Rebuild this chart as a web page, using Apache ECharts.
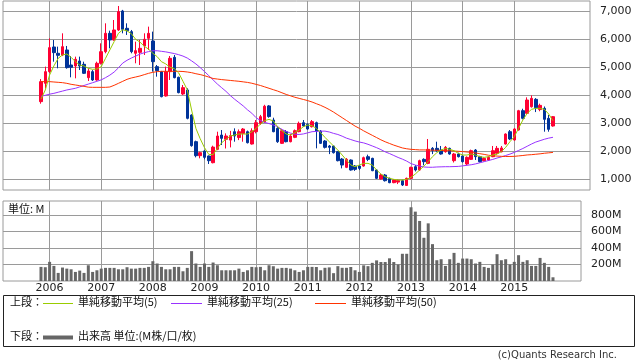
<!DOCTYPE html>
<html><head><meta charset="utf-8">
<script src="https://cdn.jsdelivr.net/npm/echarts@6/dist/echarts.min.js"></script>
<style>html,body{margin:0;padding:0;background:#fff}#c{width:638px;height:362px}</style>
</head><body><div id="c"></div>
<script>
// first candle: 2005-11, monthly candles
const startYear = 2005, startMonth = 11;
const yearLabels = ['2006','2007','2008','2009','2010','2011','2012','2013','2014','2015'];
const priceTicks = [1000,2000,3000,4000,5000,6000,7000];
const volTicks = [200,400,600,800];

const opens = [3773,4427,4844,5725,5499,5439,5618,5082,5046,5225,
5106,4630,4844,4546,5142,5558,6213,5975,6332,7010,
6392,6273,5499,5534,5761,6034,5939,5022,4844,3975,
4844,5356,4642,4046,4189,3296,2344,1844,2011,1832,
1593,2070,2581,2427,2400,2700,2490,2640,2700,2260,
2700,3000,3050,3620,3117,2820,2284,2700,2343,2498,
2700,3022,2962,2879,3022,2724,2367,2189,2189,1986,
1724,1427,1689,1474,1474,1474,1807,1748,1332,1010,
1153,1034,880,900,950,780,1034,1451,1332,1712,
1569,2105,2105,2046,1986,2105,1665,1903,1832,1546,
1712,2046,1808,1665,1689,1808,1927,1986,2260,2700,
2403,2760,3450,3355,3593,3855,3490,3534,3177,2903];
const closes = [4487,4844,5701,5523,5427,5737,4987,4999,5284,5046,
4785,4868,4546,5142,5558,6213,5975,6332,6987,6356,
6308,5558,5594,5677,6000,6213,5201,4880,3951,4844,
5320,4630,4094,4273,3177,2201,1844,1951,1784,1665,
2150,2546,2462,2546,2560,2546,2700,2795,2308,2730,
3022,3237,3610,3240,2700,2343,2736,2343,2546,2736,
2998,2903,2796,3058,2724,2284,2141,2141,1950,1665,
1510,1712,1332,1355,1390,1772,1712,1308,1034,1153,
950,880,974,960,796,1034,1427,1332,1665,1629,
2070,2022,2022,1903,2141,1903,1903,1808,1629,1784,
2022,1808,1629,1748,1784,2022,2105,2120,2617,2439,
2796,3450,3177,3831,3891,3558,3640,3141,2784,3237];
const highs = [4580,5023,6034,5975,5737,6213,5761,5403,5380,5380,
5200,4960,4900,5200,5856,6570,6308,6689,7189,7050,
6570,6333,5915,5975,6213,6451,6273,5082,4870,5022,
5403,5439,4665,4368,4249,3320,2380,1987,2040,1850,
2200,2700,2760,2640,2730,2820,2780,2830,2740,2820,
3117,3300,3660,3650,3200,2860,2800,2760,2620,2780,
3060,3117,3000,3117,3058,2760,2400,2224,2200,2000,
1760,1760,1710,1510,1500,1810,1880,1770,1360,1200,
1190,1060,1000,990,980,1060,1450,1510,1700,1750,
2439,2150,2343,2190,2190,2130,1940,1950,1860,1820,
2060,2080,1840,1780,1820,2190,2190,2190,2640,2760,
2830,3480,3520,3927,3998,3900,3700,3600,3296,3260];
const lows = [3700,4249,4800,5201,4963,5400,4950,4642,4606,4903,
4760,4510,4510,4520,5100,5500,5677,5950,6300,6213,
6154,5499,5142,5082,5439,5618,4844,4665,3927,3951,
4546,4606,4070,4011,3142,2165,1784,1749,1713,1546,
1570,2040,2224,2100,2140,2343,2400,2343,2280,2240,
2640,2950,3020,3200,2680,2300,2260,2320,2320,2470,
2680,2880,2770,2850,2105,2260,2100,1900,1920,1640,
1390,1400,1310,1300,1330,1450,1650,1290,1010,990,
920,860,860,830,760,760,1000,1280,1300,1500,
1540,1900,1980,1880,1950,1880,1600,1780,1600,1500,
1690,1690,1600,1640,1660,1790,1880,1960,2240,2400,
2380,2740,3140,3330,3560,3400,3430,2700,2700,2880];
const ma5 = [3860,4190,4725,5050,5320,5440,5475,5356,5201,5082,
5046,4963,4927,4939,5022,5320,5618,5915,6213,6340,
6300,6200,6000,5900,5750,5650,5500,5380,5200,5120,
5000,4950,4800,4500,4200,3475,2820,2450,2130,1890,
1880,2105,2308,2427,2546,2581,2617,2617,2617,2700,
2819,2974,3093,3141,3081,2879,2736,2617,2581,2665,
2760,2879,2938,2915,2819,2665,2498,2343,2189,2046,
1867,1689,1510,1450,1510,1569,1569,1510,1332,1189,
1093,1034,998,974,974,998,1070,1189,1332,1474,
1629,1808,1950,2046,2105,2070,2022,1927,1867,1867,
1903,1867,1808,1784,1808,1867,1903,1986,2141,2343,
2522,2819,3117,3355,3498,3534,3534,3498,3331,3093];
const ma25 = [3960,4000,4040,4070,4110,4150,4190,4220,4250,4300,
4350,4400,4450,4500,4550,4630,4720,4830,4980,5150,
5250,5330,5400,5470,5520,5560,5590,5590,5570,5550,
5520,5490,5450,5400,5330,5230,5120,4990,4850,4700,
4550,4400,4270,4140,3990,3860,3740,3620,3480,3360,
3200,3100,3030,2990,2940,2880,2780,2710,2650,2610,
2600,2620,2660,2700,2710,2720,2720,2690,2640,2600,
2540,2470,2420,2370,2330,2300,2250,2190,2130,2060,
1980,1920,1850,1780,1720,1650,1560,1510,1470,1440,
1430,1430,1440,1445,1450,1450,1455,1460,1480,1500,
1520,1550,1590,1630,1670,1710,1760,1800,1850,1900,
1960,2030,2100,2180,2260,2330,2380,2430,2470,2500];
const ma50 = [4487,4487,4487,4475,4463,4451,4427,4392,4368,4344,
4320,4290,4284,4284,4284,4284,4296,4356,4427,4499,
4570,4618,4653,4689,4737,4784,4820,4844,4856,4856,
4856,4856,4856,4850,4832,4808,4770,4740,4700,4650,
4600,4580,4560,4545,4530,4515,4500,4480,4460,4430,
4390,4350,4300,4250,4200,4150,4090,4030,3980,3930,
3890,3850,3810,3760,3700,3640,3570,3490,3400,3300,
3200,3100,3000,2900,2820,2730,2650,2570,2490,2410,
2340,2280,2220,2170,2120,2090,2070,2060,2050,2050,
2045,2040,2035,2030,2025,2020,2010,2000,1990,1975,
1960,1940,1915,1890,1860,1840,1830,1820,1815,1815,
1820,1835,1850,1870,1880,1895,1910,1930,1945,1960];
const volumes = [171,167,232,183,98,163,150,142,110,126,
98,191,110,130,150,159,159,159,142,142,
167,150,150,159,159,171,240,212,171,142,
142,171,171,118,159,362,212,171,212,171,
224,191,130,130,130,130,150,110,130,171,
167,171,130,191,179,150,159,159,150,130,
110,130,171,171,170,130,160,165,95,180,
160,160,170,130,110,190,180,220,250,230,
230,275,230,200,330,330,894,841,728,524,
699,447,252,264,183,264,341,220,272,272,
264,212,232,171,159,200,325,252,264,200,
232,313,232,252,183,183,280,220,171,45];

// month labels for every candle, and their position in months since 2006-01
const months = opens.map((_, k) => {
  const m = startMonth - 1 + k;
  return (startYear + Math.floor(m / 12)) + '-' + String(m % 12 + 1).padStart(2, '0');
});
const base = Number(yearLabels[0]);
const pos = months.map(s => (Number(s.slice(0, 4)) - base) * 12 + Number(s.slice(5)) - 1);
const yearTicks = yearLabels.map(y => (Number(y) - base) * 12);

const candleData = pos.map((x, k) => [x, opens[k], closes[k], lows[k], highs[k]]);
const lineData = arr => pos.map((x, k) => [x, arr[k]]);
const volData = pos.map((x, k) => [x, volumes[k]]);

const GRID = '#9a9a9a';
const FONT = "'DejaVu Sans', sans-serif";
const JP = "'Noto Sans CJK JP', sans-serif";
const pxPerMonth = 4.3025;
const xMin = -10.83;

const chart = echarts.init(document.getElementById('c'), null, {renderer: 'canvas'});
chart.setOption({
  animation: false,
  backgroundColor: '#fff',
  grid: [
    {left: 3, top: 1, width: 587, height: 189, show: true, borderColor: GRID, borderWidth: 1, backgroundColor: '#fff'},
    {left: 3, top: 201, width: 578, height: 80, show: true, borderColor: GRID, borderWidth: 1, backgroundColor: '#fff'}
  ],
  xAxis: [
    {type: 'value', gridIndex: 0, min: xMin, max: xMin + 587 / pxPerMonth,
     axisLine: {show: false}, axisTick: {show: false, customValues: yearTicks},
     axisLabel: {show: false, customValues: yearTicks},
     splitLine: {show: true, lineStyle: {color: GRID, width: 1}}},
    {type: 'value', gridIndex: 1, min: xMin, max: xMin + 578 / pxPerMonth,
     axisLine: {show: false}, axisTick: {show: false, customValues: yearTicks},
     axisLabel: {show: true, customValues: yearTicks, margin: 2, fontSize: 11, fontFamily: FONT, color: '#222',
       formatter: v => yearLabels[Math.round(v / 12)]},
     splitLine: {show: true, lineStyle: {color: GRID, width: 1}}}
  ],
  yAxis: [
    {type: 'value', gridIndex: 0, position: 'right', min: 618, max: 7367,
     axisLine: {show: false},
     axisTick: {show: true, inside: false, length: 4, customValues: priceTicks, lineStyle: {color: GRID}},
     axisLabel: {customValues: priceTicks, margin: 10, fontSize: 11, fontFamily: FONT, color: '#222',
       formatter: v => v.toLocaleString('en-US')},
     splitLine: {show: true, lineStyle: {color: GRID, width: 1}}},
    {type: 'value', gridIndex: 1, position: 'right', min: 0, max: 970,
     axisLine: {show: false},
     axisTick: {show: true, inside: false, length: 4, customValues: volTicks, lineStyle: {color: GRID}},
     axisLabel: {customValues: volTicks, margin: 10, fontSize: 11, fontFamily: FONT, color: '#222',
       formatter: v => v + 'M'},
     splitLine: {show: true, lineStyle: {color: GRID, width: 1}}}
  ],
  series: [
    {type: 'candlestick', name: '株価', xAxisIndex: 0, yAxisIndex: 0, data: candleData, barWidth: 3,
     clip: true, z: 2,
     itemStyle: {color: '#ff0033', color0: '#003399', borderColor: '#ff0033', borderColor0: '#003399', borderWidth: 1}},
    {type: 'line', name: '単純移動平均(5)', xAxisIndex: 0, yAxisIndex: 0, data: lineData(ma5), showSymbol: false,
     lineStyle: {color: '#99cc00', width: 1}, z: 4},
    {type: 'line', name: '単純移動平均(25)', xAxisIndex: 0, yAxisIndex: 0, data: lineData(ma25), showSymbol: false,
     lineStyle: {color: '#9933ff', width: 1}, z: 3},
    {type: 'line', name: '単純移動平均(50)', xAxisIndex: 0, yAxisIndex: 0, data: lineData(ma50), showSymbol: false,
     lineStyle: {color: '#ff3300', width: 1}, z: 3},
    {type: 'bar', name: '出来高', xAxisIndex: 1, yAxisIndex: 1, data: volData, barWidth: 3,
     itemStyle: {color: '#666666'}}
  ],
  graphic: [
    {type: 'text', left: 8, top: 203, style: {text: '単位: M', font: '11px ' + JP, fill: '#111'}},
    {type: 'rect', shape: {x: 3.5, y: 295.5, width: 631, height: 51}, style: {fill: 'none', stroke: '#222', lineWidth: 1}},
    {type: 'text', left: 10, top: 296, style: {text: '上段：', font: '11px ' + JP, fill: '#111'}},
    {type: 'line', shape: {x1: 43, y1: 303.5, x2: 73, y2: 303.5}, style: {stroke: '#99cc00', lineWidth: 1}},
    {type: 'text', left: 78, top: 296, style: {text: '単純移動平均(5)', font: '11px ' + JP, fill: '#111'}},
    {type: 'line', shape: {x1: 171, y1: 303.5, x2: 202, y2: 303.5}, style: {stroke: '#9933ff', lineWidth: 1}},
    {type: 'text', left: 207, top: 296, style: {text: '単純移動平均(25)', font: '11px ' + JP, fill: '#111'}},
    {type: 'line', shape: {x1: 315, y1: 303.5, x2: 346, y2: 303.5}, style: {stroke: '#ff3300', lineWidth: 1}},
    {type: 'text', left: 351, top: 296, style: {text: '単純移動平均(50)', font: '11px ' + JP, fill: '#111'}},
    {type: 'text', left: 10, top: 330, style: {text: '下段：', font: '11px ' + JP, fill: '#111'}},
    {type: 'line', shape: {x1: 43, y1: 337.5, x2: 73, y2: 337.5}, style: {stroke: '#666666', lineWidth: 4}},
    {type: 'text', left: 78, top: 330, style: {text: '出来高 単位:(M株/口/枚)', font: '11px ' + JP, fill: '#111'}},
    {type: 'text', right: 21, top: 350, style: {text: '(c)Quants Research Inc.', font: '10px ' + FONT, fill: '#333'}}
  ]
});
</script></body></html>
